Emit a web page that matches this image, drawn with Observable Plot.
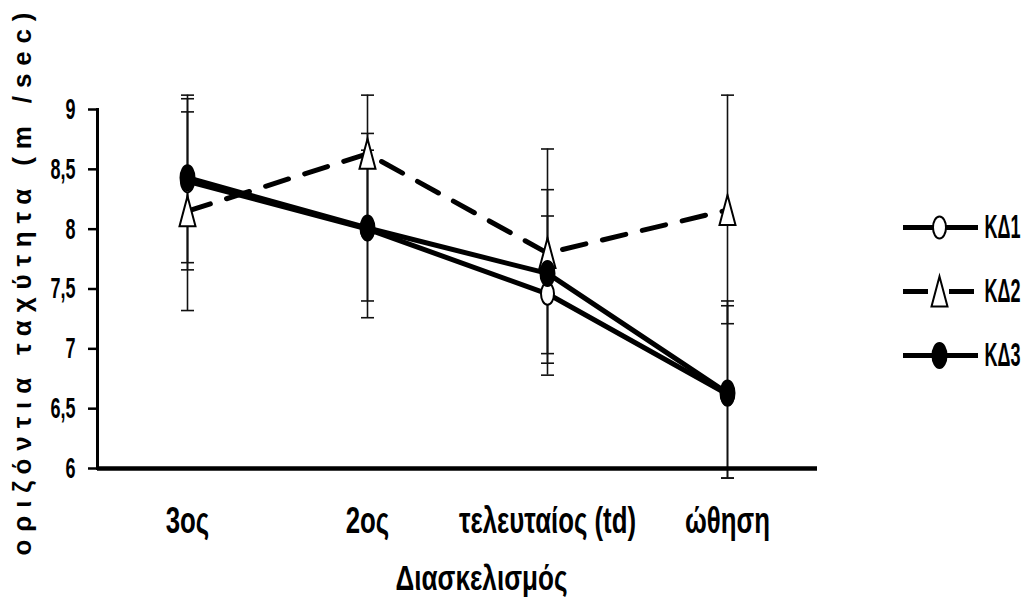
<!DOCTYPE html>
<html>
<head>
<meta charset="utf-8">
<script src="https://cdn.jsdelivr.net/npm/d3@7"></script>
<script src="https://cdn.jsdelivr.net/npm/@observablehq/plot@0.6"></script>
<style>
  body { margin: 0; background: #fff; }
  #chart { position: relative; width: 1031px; height: 603px; overflow: hidden; }
  #legend { position: absolute; left: 890px; top: 190px; }
  text { font-family: "Liberation Sans Narrow", "Liberation Sans", Arial, sans-serif; }
</style>
</head>
<body>
<div id="chart"><div id="legend"></div></div>
<script>
// Stride phases (x categories) and groups
const stages = ["3ος", "2ος", "τελευταίος (td)", "ώθηση"];
const groups = ["ΚΔ1", "ΚΔ2", "ΚΔ3"];

// Horizontal velocity (m/sec): mean and error-bar ends per group
const meanKD1 = [8.40, 8.00, 7.46, 6.62];
const lowKD1  = [7.72, 7.26, 6.78, 5.92];
const highKD1 = [9.09, 8.80, 8.11, 7.36];

const meanKD2 = [8.15, 8.63, 7.80, 8.16];
const lowKD2  = [7.32, 8.06, 6.96, 7.21];
const highKD2 = [8.98, 9.12, 8.67, 9.12];

const meanKD3 = [8.43, 8.01, 7.63, 6.63];
const lowKD3  = [7.66, 7.40, 6.88, 5.92];
const highKD3 = [9.12, 8.66, 8.33, 7.40];

const yTicks = [6, 6.5, 7, 7.5, 8, 8.5, 9];
const xTitle = "Διασκελισμός";
const yTitle = "οριζόντια ταχύτητα (m /sec)";

// Long table built from the arrays above
const stats = [[meanKD1, lowKD1, highKD1], [meanKD2, lowKD2, highKD2], [meanKD3, lowKD3, highKD3]];
const rows = groups.flatMap((g, gi) => stages.map((s, i) => ({
  group: g, stage: s, mean: stats[gi][0][i], low: stats[gi][1][i], high: stats[gi][2][i]
})));
const byGroup = g => rows.filter(d => d.group === g);

// Custom marker shapes
function ellipseSymbol(rx, ry) {
  const k = 0.5523;
  return {draw(c) {
    c.moveTo(rx, 0);
    c.bezierCurveTo(rx, ry * k, rx * k, ry, 0, ry);
    c.bezierCurveTo(-rx * k, ry, -rx, ry * k, -rx, 0);
    c.bezierCurveTo(-rx, -ry * k, -rx * k, -ry, 0, -ry);
    c.bezierCurveTo(rx * k, -ry, rx, -ry * k, rx, 0);
    c.closePath();
  }};
}
function triangleSymbol(w, h) {
  return {draw(c) { c.moveTo(0, -h / 2); c.lineTo(w / 2, h / 2); c.lineTo(-w / 2, h / 2); c.closePath(); }};
}
function capSymbol(w) {
  return {draw(c) { c.moveTo(-w / 2, 0); c.lineTo(w / 2, 0); }};
}

const styles = {
  "ΚΔ1": {dash: null, symbol: ellipseSymbol(6.5, 11), fill: "white"},
  "ΚΔ2": {dash: "24,17", symbol: triangleSymbol(16, 30), fill: "white"},
  "ΚΔ3": {dash: null, symbol: ellipseSymbol(7, 12.5), fill: "black"}
};

const comma = d => String(d).replace(".", ",");
const font = "'Liberation Sans Narrow', 'Liberation Sans', Arial, sans-serif";

const chart = Plot.plot({
  width: 1031,
  height: 603,
  marginLeft: 97,
  marginRight: 214,
  marginTop: 109,
  marginBottom: 135,
  style: {background: "white", color: "black", fontFamily: font},
  x: {type: "point", domain: stages, padding: 0.5, label: null},
  y: {domain: [6, 9], label: null},
  marks: [
    // error bars
    Plot.ruleX(rows, {x: "stage", y1: "low", y2: "high", stroke: "#111", strokeWidth: 1.6}),
    Plot.dot(rows, {x: "stage", y: "low", symbol: capSymbol(13), fill: "none", stroke: "#111", strokeWidth: 1.6}),
    Plot.dot(rows, {x: "stage", y: "high", symbol: capSymbol(13), fill: "none", stroke: "#111", strokeWidth: 1.6}),
    // axes
    Plot.frame({anchor: "left", strokeWidth: 3}),
    Plot.ruleY([6], {strokeWidth: 4.5}),
    Plot.axisY({ticks: yTicks, tickFormat: comma, tickSize: 9, tickPadding: 13, strokeWidth: 2.5,
      fontSize: 30, fontWeight: "bold"}),
    Plot.axisX({tickSize: 0, tickPadding: 39, fontSize: 38, fontWeight: "bold", label: null}),
    // series lines and markers
    ...groups.map(g => Plot.line(byGroup(g), {x: "stage", y: "mean", stroke: "black", strokeWidth: 5,
      strokeDasharray: styles[g].dash, strokeLinejoin: "round"})),
    ...groups.map(g => Plot.dot(byGroup(g), {x: "stage", y: "mean", symbol: styles[g].symbol,
      fill: styles[g].fill, stroke: "black", strokeWidth: 2})),
    // axis titles
    Plot.text([xTitle], {text: d => d, frameAnchor: "bottom", textAnchor: "middle", lineAnchor: "top",
      dx: 24, dy: 97, fontSize: 38, fontWeight: "bold", ariaLabel: () => "x-title"}),
    Plot.text([yTitle], {text: d => d, frameAnchor: "left", textAnchor: "middle", rotate: -90,
      dx: -75, dy: -5, fontSize: 26, fontWeight: "bold", ariaLabel: () => "y-title"})
  ]
});
document.getElementById("chart").prepend(chart);

const legend = Plot.plot({
  width: 141,
  height: 200,
  margin: 0,
  style: {background: "transparent", color: "black", fontFamily: font},
  x: {domain: [0, 1], range: [13, 88], axis: null},
  y: {type: "point", domain: groups, range: [37, 165], padding: 0, axis: null},
  marks: [
    ...groups.map(g => Plot.ruleY([g], {y: d => d, x1: 0, x2: 1, stroke: "black", strokeWidth: 5,
      strokeDasharray: g === "ΚΔ2" ? "25,21" : null})),
    ...groups.map(g => Plot.dot([g], {y: d => d, x: 0.48, symbol: styles[g].symbol,
      fill: styles[g].fill, stroke: "black", strokeWidth: 2})),
    Plot.text(groups, {y: d => d, x: 1, text: d => d, textAnchor: "start", dx: 6, fontSize: 32,
      fontWeight: "bold", ariaLabel: () => "legend-text"})
  ]
});
document.getElementById("legend").append(legend);

// Gather text elements whose own or parent aria-label matches
function textsOf(root, label) {
  const out = [];
  root.querySelectorAll(`[aria-label="${label}"]`).forEach(el => {
    if (el.tagName === "text") out.push(el);
    else el.querySelectorAll("text").forEach(t => out.push(t));
  });
  return out;
}
// Tall, narrow lettering: size the font so a reference label has the given
// width, then stretch the glyphs vertically to the given cap height.
function tallText(list, refText, targetWidth, capHeight) {
  const ref = list.find(t => t.textContent === refText) || list[0];
  if (!ref) return;
  const size = parseFloat(getComputedStyle(ref).fontSize) * targetWidth / ref.getComputedTextLength();
  const k = capHeight / (0.716 * size);
  for (const t of list) {
    t.style.fontSize = `${size}px`;
    t.setAttribute("transform", `${t.getAttribute("transform") || ""} scale(1,${k})`);
  }
}
tallText(textsOf(chart, "y-axis tick label"), "8,5", 25, 21);
tallText(textsOf(chart, "x-axis tick label"), "τελευταίος (td)", 177, 26);
tallText(textsOf(chart, "x-title"), xTitle, 172, 25);
tallText(textsOf(legend, "legend-text"), "ΚΔ1", 36, 24);

// Spread the rotated axis title along the axis
for (const t of textsOf(chart, "y-title")) {
  t.setAttribute("textLength", 543);
  t.setAttribute("lengthAdjust", "spacing");
}
</script>
</body>
</html>
